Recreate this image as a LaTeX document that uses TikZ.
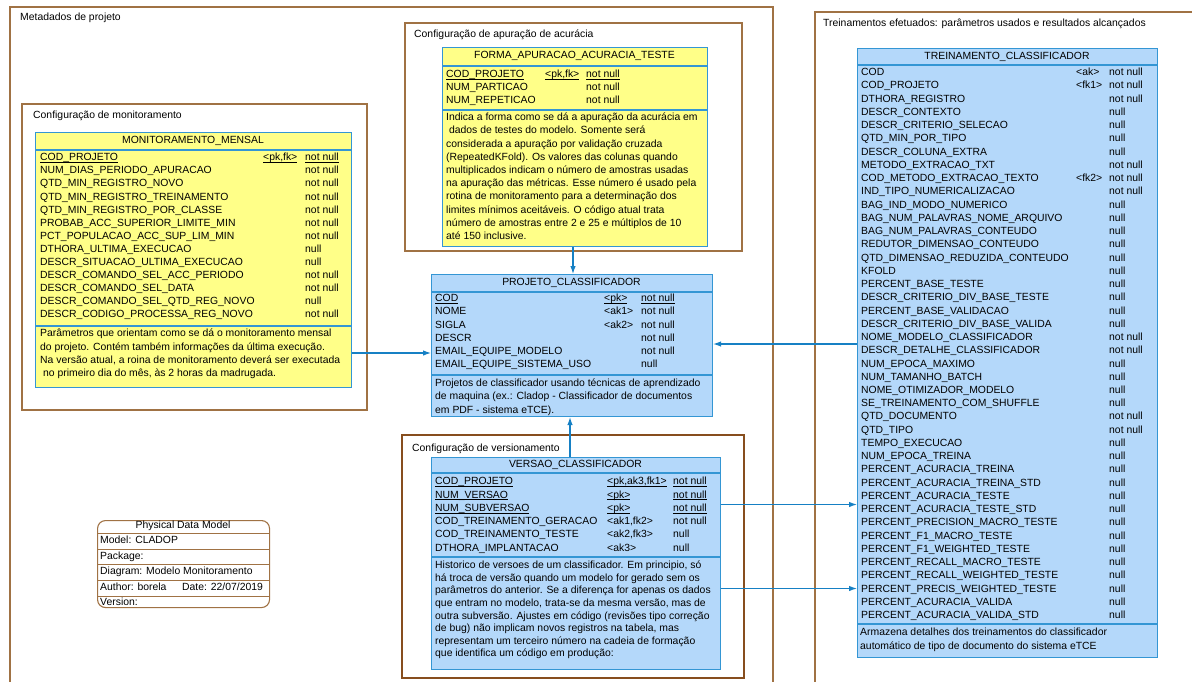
\documentclass[tikz,border=0pt]{standalone}
\usepackage{fontspec}
\setmainfont{Liberation Sans}
\usetikzlibrary{arrows.meta}

\definecolor{grpbrown}{RGB}{160,114,68}
\definecolor{grpdark}{RGB}{135,78,30}
\definecolor{tblborder}{RGB}{52,150,212}
\definecolor{tblyellow}{RGB}{255,255,136}
\definecolor{tblblue}{RGB}{180,216,250}
\definecolor{linkblue}{RGB}{22,128,196}

% key column underline, just below the text
\newcommand{\pkline}[1]{\setbox0\hbox{#1}\rlap{\rule[-1.9pt]{\wd0}{0.7pt}}\box0}

\begin{document}
\begin{tikzpicture}[x=1pt, y=-1pt,
    every node/.style={font=\fontsize{10.4}{12.5}\selectfont, inner sep=0pt},
    grp/.style={draw=grpbrown, line width=1.3pt},
    tbl/.style={draw=tblborder, line width=1.1pt, anchor=north west},
    tblline/.style={draw=tblborder, line width=1.1pt},
    txt/.style={anchor=west, text height=7.5pt, text depth=2pt},
    hdr/.style={text height=7.5pt, text depth=2pt},
    fk/.style={draw=linkblue, line width=1.1pt, -{Latex[length=8pt,width=5.5pt]}}]

\useasboundingbox (0,0) rectangle (1192,681);
\clip (0,0) rectangle (1192,681);

% Package frames
\draw[grp] (10,7) rectangle (773,700);
\node[txt] (t-meta) at (20,18) {Metadados de projeto};
\draw[grp] (815,12) rectangle (1200,700);
\node[txt] (t-treino) at (823,24) {Treinamentos efetuados: parâmetros usados e resultados alcançados};
\draw[grp] (22,104) rectangle (367,410);
\node[txt] (t-mon) at (33,116) {Configuração de monitoramento};
\draw[grp] (405,23) rectangle (742,251);
\node[txt] (t-forma) at (414,35) {Configuração de apuração de acurácia};
\draw[grp, draw=grpdark] (402,435) rectangle (744,678);
\node[txt] (t-versao) at (412,449) {Configuração de versionamento};

% MONITORAMENTO_MENSAL
\node[tbl, fill=tblyellow, minimum width=316pt, minimum height=255pt] (mon) at (35,132) {};
\draw[tblline] (35,150) -- (351,150);
\draw[tblline] (35,326) -- (351,326);
\node[hdr] (mon-h) at (193,141) {MONITORAMENTO\_MENSAL};
\foreach \n/\k/\v [count=\i from 0] in {
    \pkline{COD\_PROJETO}/\pkline{<pk,fk>}/\pkline{not null},
    NUM\_DIAS\_PERIODO\_APURACAO//not null,
    QTD\_MIN\_REGISTRO\_NOVO//not null,
    QTD\_MIN\_REGISTRO\_TREINAMENTO//not null,
    QTD\_MIN\_REGISTRO\_POR\_CLASSE//not null,
    PROBAB\_ACC\_SUPERIOR\_LIMITE\_MIN//not null,
    PCT\_POPULACAO\_ACC\_SUP\_LIM\_MIN//not null,
    DTHORA\_ULTIMA\_EXECUCAO//null,
    DESCR\_SITUACAO\_ULTIMA\_EXECUCAO//null,
    DESCR\_COMANDO\_SEL\_ACC\_PERIODO//not null,
    DESCR\_COMANDO\_SEL\_DATA//not null,
    DESCR\_COMANDO\_SEL\_QTD\_REG\_NOVO//null,
    DESCR\_CODIGO\_PROCESSA\_REG\_NOVO//not null} {
  \node[txt] (mon-n\i) at (40,158+13.1*\i) {\n};
  \node[txt] (mon-k\i) at (263,158+13.1*\i) {\k};
  \node[txt] (mon-v\i) at (305,158+13.1*\i) {\v};
}
\foreach \l [count=\i from 0] in {
    {Parâmetros que orientam como se dá o monitoramento mensal},
    {do projeto. Contém também informações da última execução.},
    {Na versão atual, a roina de monitoramento deverá ser executada},
    {\ no primeiro dia do mês, às 2 horas da madrugada.}} {
  \node[txt] (mon-c\i) at (40,334+13.4*\i) {\l};
}

% FORMA_APURACAO_ACURACIA_TESTE
\node[tbl, fill=tblyellow, minimum width=265pt, minimum height=199pt] (forma) at (442,47) {};
\draw[tblline] (442,66) -- (707,66);
\draw[tblline] (442,110) -- (707,110);
\node[hdr] (forma-h) at (574.5,56) {FORMA\_APURACAO\_ACURACIA\_TESTE};
\foreach \n/\k/\v [count=\i from 0] in {
    \pkline{COD\_PROJETO}/\pkline{<pk,fk>}/\pkline{not null},
    NUM\_PARTICAO//not null,
    NUM\_REPETICAO//not null} {
  \node[txt] (forma-n\i) at (446,75+13.1*\i) {\n};
  \node[txt] (forma-k\i) at (545,75+13.1*\i) {\k};
  \node[txt] (forma-v\i) at (586,75+13.1*\i) {\v};
}
\foreach \l [count=\i from 0] in {
    {Indica a forma como se dá a apuração da acurácia em},
    {\ dados de testes do modelo. Somente será},
    {considerada a apuração por validação cruzada},
    {(RepeatedKFold). Os valores das colunas quando},
    {multiplicados indicam o número de amostras usadas},
    {na apuração das métricas. Esse número é usado pela},
    {rotina de monitoramento para a determinação dos},
    {limites mínimos aceitáveis. O código atual trata},
    {número de amostras entre 2 e 25 e múltiplos de 10},
    {até 150 inclusive.}} {
  \node[txt] (forma-c\i) at (446,118+13.2*\i) {\l};
}

% PROJETO_CLASSIFICADOR
\node[tbl, fill=tblblue, minimum width=281pt, minimum height=142pt] (proj) at (431,274) {};
\draw[tblline] (431,292) -- (712,292);
\draw[tblline] (431,375) -- (712,375);
\node[hdr] (proj-h) at (571.5,283) {PROJETO\_CLASSIFICADOR};
\foreach \n/\k/\v [count=\i from 0] in {
    \pkline{COD}/\pkline{<pk>}/\pkline{not null},
    NOME/<ak1>/not null,
    SIGLA/<ak2>/not null,
    DESCR//not null,
    EMAIL\_EQUIPE\_MODELO//not null,
    EMAIL\_EQUIPE\_SISTEMA\_USO//null} {
  \node[txt] (proj-n\i) at (435,299+13.2*\i) {\n};
  \node[txt] (proj-k\i) at (604,299+13.2*\i) {\k};
  \node[txt] (proj-v\i) at (641,299+13.2*\i) {\v};
}
\foreach \l [count=\i from 0] in {
    {Projetos de classificador usando técnicas de aprendizado},
    {de maquina (ex.: Cladop - Classificador de documentos},
    {em PDF - sistema eTCE).}} {
  \node[txt] (proj-c\i) at (435,384+13.2*\i) {\l};
}

% VERSAO_CLASSIFICADOR
\node[tbl, fill=tblblue, minimum width=289pt, minimum height=212pt] (versao) at (431,457) {};
\draw[tblline] (431,473) -- (720,473);
\draw[tblline] (431,557) -- (720,557);
\node[hdr] (versao-h) at (575.5,465) {VERSAO\_CLASSIFICADOR};
\foreach \n/\k/\v [count=\i from 0] in {
    \pkline{COD\_PROJETO}/\pkline{<pk,ak3,fk1>}/\pkline{not null},
    \pkline{NUM\_VERSAO}/\pkline{<pk>}/\pkline{not null},
    \pkline{NUM\_SUBVERSAO}/\pkline{<pk>}/\pkline{not null},
    COD\_TREINAMENTO\_GERACAO/{<ak1,fk2>}/not null,
    COD\_TREINAMENTO\_TESTE/{<ak2,fk3>}/null,
    DTHORA\_IMPLANTACAO/<ak3>/null} {
  \node[txt] (versao-n\i) at (435,482+13.3*\i) {\n};
  \node[txt] (versao-k\i) at (607,482+13.3*\i) {\k};
  \node[txt] (versao-v\i) at (673,482+13.3*\i) {\v};
}
\foreach \l [count=\i from 0] in {
    {Historico de versoes de um classificador. Em principio, só},
    {há troca de versão quando um modelo for gerado sem os},
    {parâmetros do anterior. Se a diferença for apenas os dados},
    {que entram no modelo, trata-se da mesma versão, mas de},
    {outra subversão. Ajustes em código (revisões tipo correção},
    {de bug) não implicam novos registros na tabela, mas},
    {representam um terceiro número na cadeia de formação},
    {que identifica um código em produção:}} {
  \node[txt] (versao-c\i) at (435,566+12.6*\i) {\l};
}

% TREINAMENTO_CLASSIFICADOR
\node[tbl, fill=tblblue, minimum width=300pt, minimum height=609pt] (treino) at (857,48) {};
\draw[tblline] (857,65) -- (1157,65);
\draw[tblline] (857,624) -- (1157,624);
\node[hdr] (treino-h) at (1007,56.5) {TREINAMENTO\_CLASSIFICADOR};
\foreach \n/\k/\v [count=\i from 0] in {
    COD/<ak>/not null,
    COD\_PROJETO/<fk1>/not null,
    DTHORA\_REGISTRO//not null,
    DESCR\_CONTEXTO//null,
    DESCR\_CRITERIO\_SELECAO//null,
    QTD\_MIN\_POR\_TIPO//null,
    DESCR\_COLUNA\_EXTRA//null,
    METODO\_EXTRACAO\_TXT//not null,
    COD\_METODO\_EXTRACAO\_TEXTO/<fk2>/not null,
    IND\_TIPO\_NUMERICALIZACAO//not null,
    BAG\_IND\_MODO\_NUMERICO//null,
    BAG\_NUM\_PALAVRAS\_NOME\_ARQUIVO//null,
    BAG\_NUM\_PALAVRAS\_CONTEUDO//null,
    REDUTOR\_DIMENSAO\_CONTEUDO//null,
    QTD\_DIMENSAO\_REDUZIDA\_CONTEUDO//null,
    KFOLD//null,
    PERCENT\_BASE\_TESTE//null,
    DESCR\_CRITERIO\_DIV\_BASE\_TESTE//null,
    PERCENT\_BASE\_VALIDACAO//null,
    DESCR\_CRITERIO\_DIV\_BASE\_VALIDA//null,
    NOME\_MODELO\_CLASSIFICADOR//not null,
    DESCR\_DETALHE\_CLASSIFICADOR//not null,
    NUM\_EPOCA\_MAXIMO//null,
    NUM\_TAMANHO\_BATCH//null,
    NOME\_OTIMIZADOR\_MODELO//null,
    SE\_TREINAMENTO\_COM\_SHUFFLE//null,
    QTD\_DOCUMENTO//not null,
    QTD\_TIPO//not null,
    TEMPO\_EXECUCAO//null,
    NUM\_EPOCA\_TREINA//null,
    PERCENT\_ACURACIA\_TREINA//null,
    PERCENT\_ACURACIA\_TREINA\_STD//null,
    PERCENT\_ACURACIA\_TESTE//null,
    PERCENT\_ACURACIA\_TESTE\_STD//null,
    PERCENT\_PRECISION\_MACRO\_TESTE//null,
    PERCENT\_F1\_MACRO\_TESTE//null,
    PERCENT\_F1\_WEIGHTED\_TESTE//null,
    PERCENT\_RECALL\_MACRO\_TESTE//null,
    PERCENT\_RECALL\_WEIGHTED\_TESTE//null,
    PERCENT\_PRECIS\_WEIGHTED\_TESTE//null,
    PERCENT\_ACURACIA\_VALIDA//null,
    PERCENT\_ACURACIA\_VALIDA\_STD//null} {
  \node[txt] (treino-n\i) at (861,73+13.24*\i) {\n};
  \node[txt] (treino-k\i) at (1076,73+13.24*\i) {\k};
  \node[txt] (treino-v\i) at (1109,73+13.24*\i) {\v};
}
\foreach \l [count=\i from 0] in {
    {Armazena detalhes dos treinamentos do classificador},
    {automático de tipo de documento do sistema eTCE}} {
  \node[txt] (treino-c\i) at (860,633+13.3*\i) {\l};
}

% Physical data model box
\node[draw=grpbrown, line width=1.1pt, rounded corners=8pt, minimum width=172pt,
      minimum height=87pt, anchor=north west] (pdm) at (97,520) {};
\foreach \y in {533,549,564,580,596}
  \draw[grpbrown, line width=1pt] (97,\y) -- (269,\y);
\node[hdr] (pdm-h) at (183,526) {Physical Data Model};
\node[txt] (pdm-model) at (100,541) {Model: CLADOP};
\node[txt] (pdm-pkg) at (100,557) {Package:};
\node[txt] (pdm-diag) at (100,572) {Diagram: Modelo Monitoramento};
\node[txt] (pdm-author) at (100,588) {Author: borela};
\node[txt] (pdm-date) at (182,588) {Date: 22/07/2019};
\node[txt] (pdm-ver) at (100,603) {Version:};

% Reference connectors
\coordinate (cx-forma) at (573,0);
\coordinate (cx-versao) at (570,0);
\coordinate (cy-mon) at (0,353);
\coordinate (cy-treino) at (0,344);
\coordinate (cy-ger) at (0,504.5);
\coordinate (cy-tst) at (0,588.5);
\draw[fk] (forma.south -| cx-forma) -- (proj.north -| cx-forma);
\draw[fk] (versao.north -| cx-versao) -- (proj.south -| cx-versao);
\draw[fk] (mon.east |- cy-mon) -- (proj.west |- cy-mon);
\draw[fk] (treino.west |- cy-treino) -- (proj.east |- cy-treino);
\draw[fk] (versao.east |- cy-ger) -- (treino.west |- cy-ger);
\draw[fk] (versao.east |- cy-tst) -- (treino.west |- cy-tst);

\end{tikzpicture}
\end{document}
